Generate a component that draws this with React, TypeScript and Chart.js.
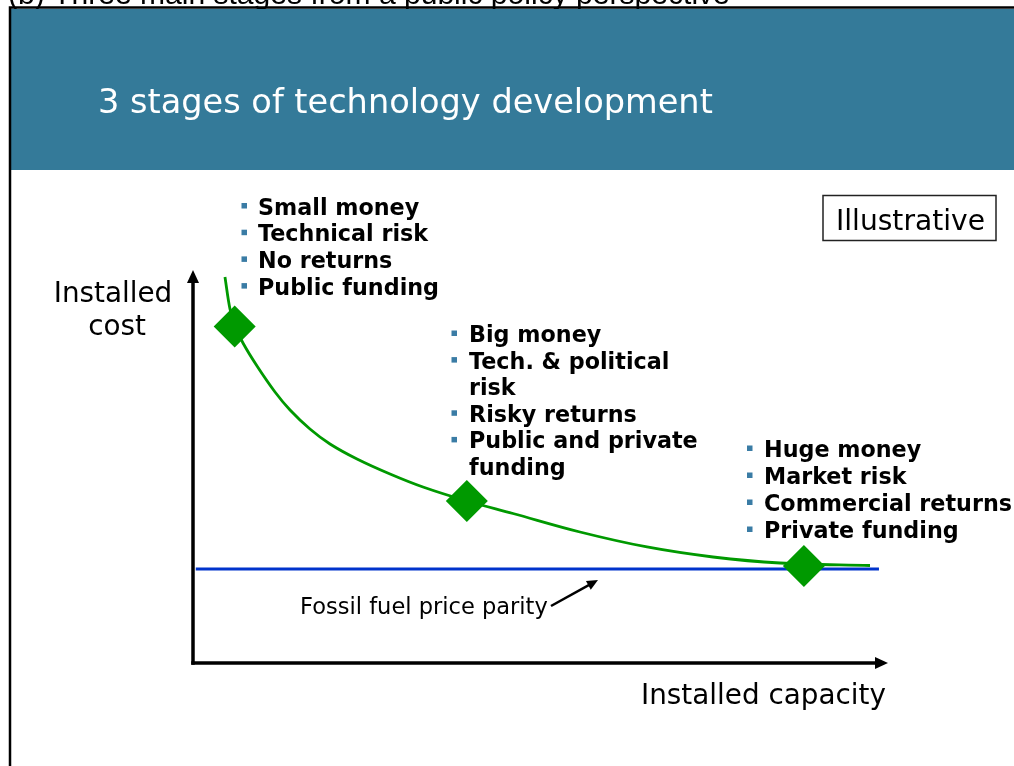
import React, { useEffect, useRef } from "react";
import { Chart, registerables } from "chart.js";

Chart.register(...registerables);

// ---- data (illustrative curve, in arbitrary units 0..100) ----
const curveX = [4.6, 5.32, 6.04, 7.19, 9.21, 11.8, 13.96, 16.83, 19.71, 23.6, 28.35, 33.09, 39.42, 46.04, 55.68, 65.32, 74.82, 84.46, 97.41];
const curveY = [98.22, 90.08, 85.75, 81.42, 75.57, 68.96, 64.38, 59.54, 55.73, 51.91, 48.09, 44.78, 41.22, 38.04, 33.33, 29.52, 26.97, 25.45, 24.81];
const stageX = [6.0, 39.4, 87.9];
const stageY = [85.6, 41.2, 24.7];
const parityX = [0.4, 98.7];
const parityY = [23.9, 23.9];

// ---- text ----
const topCaption = "(b) Three main stages from a public policy perspective";
const titleText = "3 stages of technology development";
const illustrativeText = "Illustrative";
const yAxisTitle = ["Installed", "cost"];
const xAxisTitle = "Installed capacity";
const parityLabel = "Fossil fuel price parity";
const stage1Notes = [["Small money"], ["Technical risk"], ["No returns"], ["Public funding"]];
const stage2Notes = [["Big money"], ["Tech. & political", "risk"], ["Risky returns"], ["Public and private", "funding"]];
const stage3Notes = [["Huge money"], ["Market risk"], ["Commercial returns"], ["Private funding"]];

const TEAL = "rgb(52,122,153)";
const BULLET = "rgb(58,124,165)";
const GREEN = "#009900";
const BLUE = "#0033cc";
const SANS = '"DejaVu Sans", Verdana, sans-serif';

function fit(ctx: CanvasRenderingContext2D, text: string, weight: string, family: string, w: number) {
  ctx.font = `${weight} 100px ${family}`;
  return (100 * w) / ctx.measureText(text).width;
}

const decorPlugin = {
  id: "decor",
  beforeDraw(chart: any) {
    const ctx = chart.ctx as CanvasRenderingContext2D;
    const W = chart.width;
    const H = chart.height;
    ctx.save();
    ctx.fillStyle = "#ffffff";
    ctx.fillRect(0, 0, W, H);
    // top caption (cut off)
    const capSize = fit(ctx, topCaption, "normal", '"Liberation Sans", Arial, sans-serif', 722);
    ctx.font = `normal ${capSize}px "Liberation Sans", Arial, sans-serif`;
    ctx.fillStyle = "#000";
    ctx.textBaseline = "alphabetic";
    ctx.textAlign = "left";
    ctx.fillText(topCaption, 8, 4);
    // header band
    ctx.fillStyle = TEAL;
    ctx.fillRect(11, 9, W - 11, 161);
    // frame
    ctx.strokeStyle = "#000";
    ctx.lineWidth = 2.5;
    ctx.beginPath();
    ctx.moveTo(10, H + 5);
    ctx.lineTo(10, 7.5);
    ctx.lineTo(W + 5, 7.5);
    ctx.stroke();
    // title
    const ts = fit(ctx, titleText, "normal", SANS, 615);
    ctx.font = `normal ${ts}px ${SANS}`;
    ctx.fillStyle = "#ffffff";
    ctx.fillText(titleText, 98, 113);
    ctx.restore();
  },
  beforeDatasetsDraw(chart: any) {
    const ctx = chart.ctx as CanvasRenderingContext2D;
    const a = chart.chartArea;
    ctx.save();
    ctx.strokeStyle = "#000";
    ctx.fillStyle = "#000";
    ctx.lineWidth = 3.5;
    ctx.lineCap = "butt";
    // y axis
    ctx.beginPath();
    ctx.moveTo(a.left, a.bottom + 1.75);
    ctx.lineTo(a.left, a.top + 10);
    ctx.stroke();
    ctx.beginPath();
    ctx.moveTo(a.left, a.top);
    ctx.lineTo(a.left - 6, a.top + 13);
    ctx.lineTo(a.left + 6, a.top + 13);
    ctx.closePath();
    ctx.fill();
    // x axis
    ctx.beginPath();
    ctx.moveTo(a.left - 1.75, a.bottom);
    ctx.lineTo(a.right - 10, a.bottom);
    ctx.stroke();
    ctx.beginPath();
    ctx.moveTo(a.right, a.bottom);
    ctx.lineTo(a.right - 13, a.bottom - 6);
    ctx.lineTo(a.right - 13, a.bottom + 6);
    ctx.closePath();
    ctx.fill();
    ctx.restore();
  },
  afterDraw(chart: any) {
    const ctx = chart.ctx as CanvasRenderingContext2D;
    ctx.save();
    ctx.textBaseline = "alphabetic";
    // bullet blocks: bold text at 22.5px, horizontally fitted
    const BS = 22.5;
    ctx.font = `bold ${BS}px ${SANS}`;
    const sx = 248 / ctx.measureText("Commercial returns").width;
    const drawBlock = (notes: string[][], bx: number, tx: number, y0: number, lh: number) => {
      let y = y0;
      notes.forEach((lines) => {
        ctx.fillStyle = BULLET;
        ctx.fillRect(bx, y - 11.5, 5.5, 5.5);
        lines.forEach((ln) => {
          ctx.fillStyle = "#000";
          ctx.font = `bold ${BS}px ${SANS}`;
          ctx.textAlign = "left";
          ctx.save();
          ctx.translate(tx, y);
          ctx.scale(sx, 1);
          ctx.fillText(ln, 0, 0);
          ctx.restore();
          y += lh;
        });
      });
    };
    drawBlock(stage1Notes, 241.5, 258, 214.5, 26.7);
    drawBlock(stage2Notes, 451.5, 469, 342, 26.6);
    drawBlock(stage3Notes, 747, 764, 457, 27);

    // Illustrative box
    ctx.strokeStyle = "#222";
    ctx.lineWidth = 1.5;
    ctx.strokeRect(823, 195.5, 173, 45);
    const is = fit(ctx, illustrativeText, "normal", SANS, 149);
    ctx.font = `normal ${is}px ${SANS}`;
    ctx.fillStyle = "#000";
    ctx.textAlign = "left";
    ctx.fillText(illustrativeText, 836, 230);

    // axis titles
    const rs = fit(ctx, xAxisTitle, "normal", SANS, 245);
    ctx.font = `normal ${rs}px ${SANS}`;
    ctx.fillText(xAxisTitle, 641, 704);
    ctx.textAlign = "center";
    ctx.fillText(yAxisTitle[0], 113, 302);
    ctx.fillText(yAxisTitle[1], 117, 335);

    // parity label and arrow
    const ps = fit(ctx, parityLabel, "normal", SANS, 248);
    ctx.font = `normal ${ps}px ${SANS}`;
    ctx.textAlign = "left";
    ctx.fillText(parityLabel, 300, 614);
    const x0 = 551, y0 = 606, x1 = 598, y1 = 580;
    const ang = Math.atan2(y1 - y0, x1 - x0);
    ctx.strokeStyle = "#000";
    ctx.lineWidth = 2.5;
    ctx.beginPath();
    ctx.moveTo(x0, y0);
    ctx.lineTo(x1 - 8 * Math.cos(ang), y1 - 8 * Math.sin(ang));
    ctx.stroke();
    ctx.fillStyle = "#000";
    ctx.beginPath();
    ctx.moveTo(x1, y1);
    ctx.lineTo(x1 - 11 * Math.cos(ang) + 5 * Math.sin(ang), y1 - 11 * Math.sin(ang) - 5 * Math.cos(ang));
    ctx.lineTo(x1 - 11 * Math.cos(ang) - 5 * Math.sin(ang), y1 - 11 * Math.sin(ang) + 5 * Math.cos(ang));
    ctx.closePath();
    ctx.fill();
    ctx.restore();
  },
};

export default function App() {
  const ref = useRef<HTMLCanvasElement | null>(null);
  useEffect(() => {
    if (!ref.current) return;
    const chart = new Chart(ref.current, {
      type: "scatter",
      data: {
        datasets: [
          {
            label: "Stages",
            data: stageX.map((x, i) => ({ x, y: stageY[i] })),
            pointStyle: "rectRot",
            pointRadius: 21,
            pointBackgroundColor: GREEN,
            pointBorderColor: GREEN,
            pointBorderWidth: 0,
            showLine: false,
            clip: false,
          } as any,
          {
            label: "Installed cost",
            data: curveX.map((x, i) => ({ x, y: curveY[i] })),
            showLine: true,
            borderColor: GREEN,
            borderWidth: 2.8,
            pointRadius: 0,
            tension: 0.35,
            clip: false,
          } as any,
          {
            label: "Fossil fuel price parity",
            data: parityX.map((x, i) => ({ x, y: parityY[i] })),
            showLine: true,
            borderColor: BLUE,
            borderWidth: 3,
            pointRadius: 0,
            clip: false,
          } as any,
        ],
      },
      options: {
        responsive: false,
        maintainAspectRatio: false,
        devicePixelRatio: 1,
        animation: false,
        layout: { padding: { left: 193, right: 126, top: 270, bottom: 103 } },
        scales: {
          x: { type: "linear", min: 0, max: 100, display: false },
          y: { type: "linear", min: 0, max: 100, display: false },
        },
        plugins: { legend: { display: false }, tooltip: { enabled: false } },
        events: [],
      },
      plugins: [decorPlugin],
    });
    return () => chart.destroy();
  }, []);
  return (
    <div style={{ position: "fixed", left: 0, top: 0, width: 1014, height: 766 }}>
      <canvas ref={ref} width={1014} height={766} style={{ width: 1014, height: 766, display: "block" }} />
    </div>
  );
}
